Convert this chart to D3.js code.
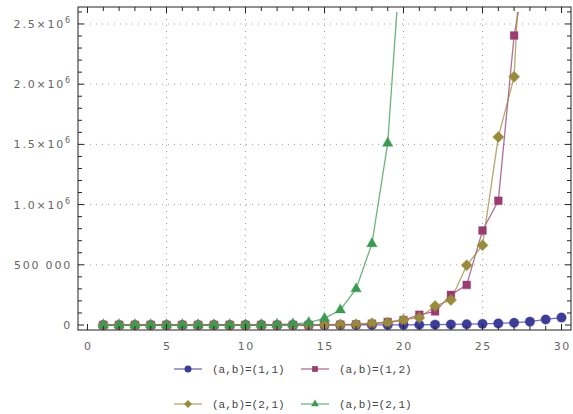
<!DOCTYPE html>
<html>
<head>
<meta charset="utf-8">
<script src="https://cdn.jsdelivr.net/npm/d3@7"></script>
<style>
  body { margin: 0; background: #fff; }
  svg { display: block; }
</style>
</head>
<body>
<div id="chart"></div>
<script>
// x positions (n)
var nValues = [1, 2, 3, 4, 5, 6, 7, 8, 9, 10, 11, 12, 13, 14, 15, 16, 17, 18, 19, 20,
               21, 22, 23, 24, 25, 26, 27, 28, 29, 30];

// series values
var series11 = [1, 2, 3, 4, 6, 8, 12, 17, 25, 36, 52, 75, 110, 160, 230, 330, 480, 700, 1000, 1500,
                2100, 3100, 4500, 6500, 9500, 13000, 19000, 28000, 46000, 62000];
var series12 = [1, 2, 3, 5, 8, 13, 20, 35, 55, 95, 150, 260, 420, 800, 1400, 2600, 5000, 11000, 25000, 40000,
                85000, 113000, 250000, 333000, 785000, 1032000, 2404000, 3150000];
var series21 = [1, 1, 2, 3, 5, 9, 14, 25, 40, 70, 110, 200, 330, 650, 2200, 4500, 6500, 14000, 20000, 42000,
                61000, 158000, 208000, 496000, 663000, 1561000, 2061000, 4620000];
var series22 = [1, 2, 4, 8, 15, 30, 70, 160, 350, 800, 1800, 4000, 9000, 20000, 55000, 125000, 300000, 675000, 1510000, 3400000];

var seriesNames = ["(a,b)=(1,1)", "(a,b)=(1,2)", "(a,b)=(2,1)", "(a,b)=(2,1)"];
var seriesColors = ["#3d3d99", "#993d71", "#998b3d", "#3d9954"];
var seriesShapes = ["circle", "square", "diamond", "triangle"];

var xTicks = [0, 5, 10, 15, 20, 25, 30];
var yTicks = [0, 500000, 1000000, 1500000, 2000000, 2500000];
var yTickLabels = [["0", null], ["500 000", null], ["1.0×10", "6"], ["1.5×10", "6"], ["2.0×10", "6"], ["2.5×10", "6"]];

var width = 573, height = 414;
var frame = { left: 78, right: 571, top: 7, bottom: 330 };

var svg = d3.select("#chart").append("svg")
    .attr("width", width)
    .attr("height", height);

var x = d3.scaleLinear().domain([-0.6, 30.6]).range([frame.left, frame.right]);
var y = d3.scaleLinear().domain([-41500, 2641000]).range([frame.bottom, frame.top]);

// grid lines (dotted)
var grid = svg.append("g");
grid.selectAll(".vg")
    .data(xTicks.filter(function (d) { return d > 0 && d < 30; }))
    .enter().append("line")
    .attr("x1", function (d) { return x(d); })
    .attr("x2", function (d) { return x(d); })
    .attr("y1", frame.top)
    .attr("y2", frame.bottom)
    .attr("stroke", "#a0a0a0")
    .attr("stroke-dasharray", "1,5");
grid.selectAll(".hg")
    .data(yTicks.filter(function (d) { return d > 0; }))
    .enter().append("line")
    .attr("x1", frame.left)
    .attr("x2", frame.right)
    .attr("y1", function (d) { return y(d); })
    .attr("y2", function (d) { return y(d); })
    .attr("stroke", "#a0a0a0")
    .attr("stroke-dasharray", "1,5");

// clip to plot range
svg.append("clipPath").attr("id", "clip")
    .append("rect")
    .attr("x", frame.left)
    .attr("y", y(2600000))
    .attr("width", frame.right - frame.left)
    .attr("height", frame.bottom - y(2600000));

var allSeries = [series11, series12, series21, series22].map(function (vals, i) {
    return {
        name: seriesNames[i],
        color: seriesColors[i],
        shape: seriesShapes[i],
        points: vals.map(function (v, j) { return { n: nValues[j], v: v }; })
    };
});

var line = d3.line()
    .x(function (d) { return x(d.n); })
    .y(function (d) { return y(d.v); });

function markerPath(shape, scale) {
    if (shape === "circle") return d3.symbol(d3.symbolCircle, 70 * scale)();
    if (shape === "square") return d3.symbol(d3.symbolSquare, 60 * scale)();
    if (shape === "diamond") return d3.symbol(d3.symbolSquare, 60 * scale)();
    return d3.symbol(d3.symbolTriangle, 46 * scale)();
}

var plot = svg.append("g").attr("clip-path", "url(#clip)");

// lines first
plot.selectAll(".series-line")
    .data(allSeries)
    .enter().append("path")
    .attr("d", function (d) { return line(d.points); })
    .attr("fill", "none")
    .attr("stroke", function (d) { return d.color; })
    .attr("stroke-opacity", 0.75)
    .attr("stroke-width", 1.3);

// then markers, in series order
allSeries.forEach(function (s) {
    plot.selectAll(null)
        .data(s.points.filter(function (p) { return p.v <= 2600000; }))
        .enter().append("path")
        .attr("d", markerPath(s.shape, 1))
        .attr("transform", function (p) {
            return "translate(" + x(p.n) + "," + y(p.v) + ")" + (s.shape === "diamond" ? " rotate(45)" : "");
        })
        .attr("fill", s.color)
        .attr("stroke", s.color)
        .attr("stroke-opacity", 0.35)
        .attr("stroke-width", 1.2);
});

// frame
svg.append("rect")
    .attr("x", frame.left)
    .attr("y", frame.top)
    .attr("width", frame.right - frame.left)
    .attr("height", frame.bottom - frame.top)
    .attr("fill", "none")
    .attr("stroke", "#222")
    .attr("stroke-width", 1);

// ticks on all four sides, pointing inward
var ticks = svg.append("g").attr("stroke", "#222").attr("stroke-width", 1);
var xMinor = d3.range(0, 31);
xMinor.forEach(function (t) {
    var major = t % 5 === 0;
    var len = major ? 6 : 4;
    ticks.append("line").attr("x1", x(t)).attr("x2", x(t))
        .attr("y1", frame.bottom).attr("y2", frame.bottom - len);
    ticks.append("line").attr("x1", x(t)).attr("x2", x(t))
        .attr("y1", frame.top).attr("y2", frame.top + len);
});
var yMinor = d3.range(0, 2600001, 100000);
yMinor.forEach(function (t) {
    var major = t % 500000 === 0;
    var len = major ? 6 : 4;
    ticks.append("line").attr("y1", y(t)).attr("y2", y(t))
        .attr("x1", frame.left).attr("x2", frame.left + len);
    ticks.append("line").attr("y1", y(t)).attr("y2", y(t))
        .attr("x1", frame.right).attr("x2", frame.right - len);
});

// tick labels
svg.append("g").selectAll("text")
    .data(xTicks)
    .enter().append("text")
    .attr("x", function (d) { return x(d) + 0.8; })
    .attr("y", 350)
    .attr("text-anchor", "middle")
    .attr("font-family", "DejaVu Sans")
    .attr("font-size", 11)
    .attr("letter-spacing", 1.6)
    .attr("fill", "#666")
    .text(function (d) { return d; });

var yLabels = svg.append("g").selectAll("text")
    .data(yTicks)
    .enter().append("text")
    .attr("x", 72)
    .attr("y", function (d) { return y(d) + 4; })
    .attr("text-anchor", "end")
    .attr("font-family", "DejaVu Sans")
    .attr("font-size", 11)
    .attr("letter-spacing", 1.8)
    .attr("fill", "#666");
yLabels.append("tspan").text(function (d, i) { return yTickLabels[i][0]; });
yLabels.append("tspan")
    .attr("dy", -5)
    .attr("font-size", 8)
    .text(function (d, i) { return yTickLabels[i][1] || ""; });

// legend
var legendPos = [[174, 369], [301, 369], [174, 404], [301, 404]];
var legend = svg.append("g").selectAll(".key")
    .data(allSeries)
    .enter().append("g")
    .attr("transform", function (d, i) { return "translate(" + legendPos[i][0] + "," + legendPos[i][1] + ")"; });

legend.append("line")
    .attr("x1", 0).attr("x2", 28)
    .attr("stroke", function (d) { return d.color; })
    .attr("stroke-opacity", 0.75)
    .attr("stroke-width", 1.3);
legend.append("path")
    .attr("d", function (d) { return markerPath(d.shape, 0.55); })
    .attr("transform", function (d) { return "translate(14,0)" + (d.shape === "diamond" ? " rotate(45)" : ""); })
    .attr("fill", function (d) { return d.color; });
legend.append("text")
    .attr("x", 38)
    .attr("y", 4)
    .attr("font-family", "Liberation Mono")
    .attr("font-size", 11)
    .attr("fill", "#444")
    .text(function (d) { return d.name; });
</script>
</body>
</html>
